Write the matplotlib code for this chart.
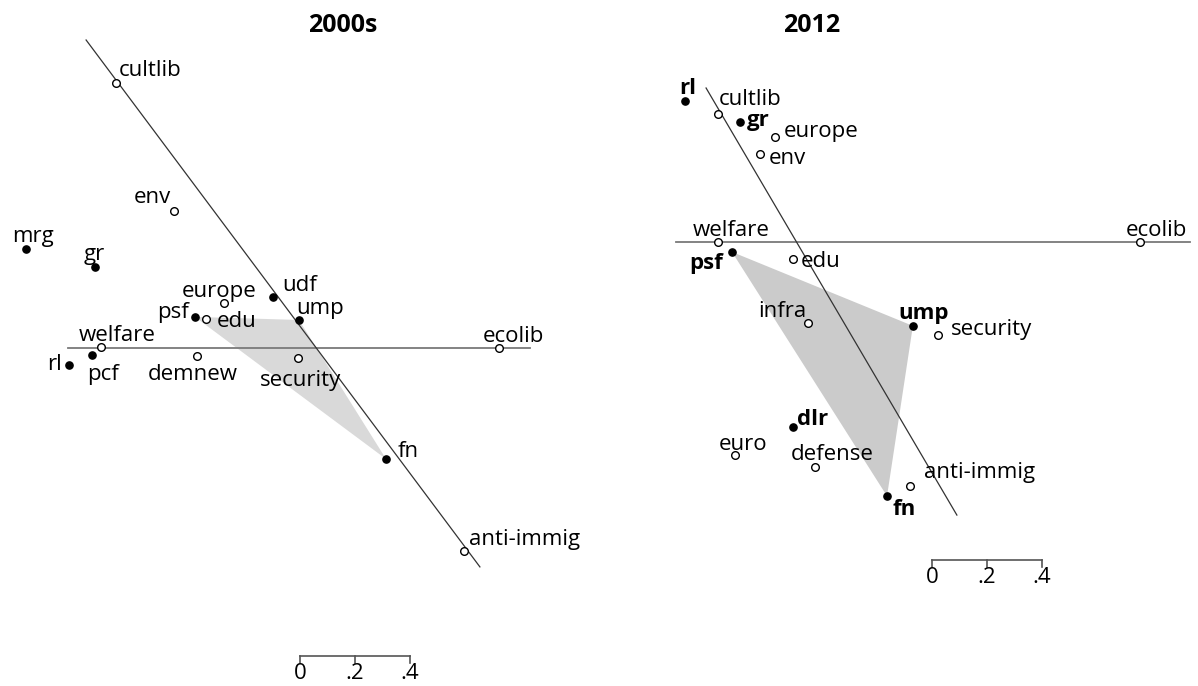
import numpy as np
import matplotlib
matplotlib.use('Agg')
import matplotlib.pyplot as plt

plt.rcParams['font.family'] = ['Open Sans', 'DejaVu Sans']

# ---- 2000s panel (scale units: bar = 0 .. .4) ----
left_party_names = ["mrg", "gr", "udf", "psf", "ump", "pcf", "rl", "fn"]
left_party_x = [-1.055, -0.804, -0.156, -0.440, -0.062, -0.815, -0.898, 0.255]
left_party_y = [0.360, 0.295, 0.185, 0.113, 0.102, -0.025, -0.062, -0.404]

left_issue_names = ["cultlib", "env", "europe", "edu", "welfare", "demnew",
                    "security", "ecolib", "anti-immig"]
left_issue_x = [-0.727, -0.516, -0.335, -0.400, -0.782, -0.433, -0.065, 0.665, 0.538]
left_issue_y = [0.964, 0.498, 0.164, 0.105, 0.004, -0.029, -0.036, 0.0, -0.738]

left_diag_x = [-0.836, 0.596]
left_diag_y = [1.120, -0.796]
left_horiz_x = [-0.902, 0.778]
left_hull = ["psf", "ump", "fn"]

# ---- 2012 panel ----
right_party_names = ["rl", "gr", "psf", "ump", "dlr", "fn"]
right_party_x = [-0.404, -0.204, -0.233, 0.425, -0.011, 0.331]
right_party_y = [0.513, 0.436, -0.036, -0.305, -0.673, -0.924]

right_issue_names = ["cultlib", "europe", "env", "welfare", "ecolib", "edu",
                     "infra", "security", "euro", "defense", "anti-immig"]
right_issue_x = [-0.284, -0.076, -0.131, -0.284, 1.251, -0.011,
                 0.044, 0.516, -0.222, 0.069, 0.415]
right_issue_y = [0.465, 0.382, 0.320, 0.0, 0.0, -0.062,
                 -0.295, -0.338, -0.775, -0.818, -0.887]

right_diag_x = [-0.327, 0.585]
right_diag_y = [0.560, -0.993]
right_horiz_x = [-0.436, 1.433]
right_hull = ["psf", "ump", "fn"]

scale_ticks = [0, 0.2, 0.4]
scale_labels = ["0", ".2", ".4"]

# label placement: (dx px, dy px, ha, va)
left_label_pos = {
    "mrg": (7, 2, "center", "bottom"), "gr": (-1, 2, "center", "bottom"),
    "udf": (9, 1, "left", "bottom"), "psf": (-6, 4, "right", "center"),
    "ump": (-3, 1, "left", "bottom"), "pcf": (11, -9, "center", "top"),
    "rl": (-7, 1, "right", "center"), "fn": (11, -3, "left", "bottom"),
    "cultlib": (3, 2, "left", "bottom"), "env": (-3, 3, "right", "bottom"),
    "europe": (-5, 1, "center", "bottom"), "edu": (11, -2, "left", "center"),
    "welfare": (16, 1, "center", "bottom"), "demnew": (-4, -8, "center", "top"),
    "security": (2, -12, "center", "top"), "ecolib": (15, 1, "center", "bottom"),
    "anti-immig": (5, 1, "left", "bottom"),
}
right_label_pos = {
    "rl": (3, 2, "center", "bottom"), "gr": (7, 2, "left", "center"),
    "psf": (-9, -12, "right", "center"), "ump": (11, 2, "center", "bottom"),
    "dlr": (4, -3, "left", "bottom"), "fn": (5, -3, "left", "top"),
    "cultlib": (1, 4, "left", "bottom"), "europe": (9, 5, "left", "center"),
    "env": (9, -4, "left", "center"), "welfare": (13, 1, "center", "bottom"),
    "ecolib": (16, 1, "center", "bottom"), "edu": (8, -2, "left", "center"),
    "infra": (-2, 1, "right", "bottom"), "security": (13, 5, "left", "center"),
    "euro": (8, 0, "center", "bottom"), "defense": (17, 2, "center", "bottom"),
    "anti-immig": (14, 3, "left", "bottom"),
}

W, H = 1198, 686
PX_PER_UNIT = 275.0
LABEL_SIZE = 16


def make_axes(fig, x0_px, x1_px, origin_px):
    ox, oy = origin_px
    ax = fig.add_axes([x0_px / W, 0, (x1_px - x0_px) / W, 1])
    ax.set_xlim((x0_px - ox) / PX_PER_UNIT, (x1_px - ox) / PX_PER_UNIT)
    ax.set_ylim((oy - H) / PX_PER_UNIT, oy / PX_PER_UNIT)
    ax.axis('off')
    return ax


def draw_panel(ax, party_names, px, py, issue_names, ix, iy, diag_x, diag_y,
               horiz_x, hull, label_pos, hull_color, bold_parties, bar_x0, bar_y):
    pos = dict(zip(party_names, zip(px, py)))
    hx = [pos[n][0] for n in hull]
    hy = [pos[n][1] for n in hull]
    ax.fill(hx, hy, color=hull_color, lw=0, zorder=1)
    ax.plot(horiz_x, [0, 0], color='#7a7a7a', lw=1.3, zorder=2)
    ax.plot(diag_x, diag_y, color='#333333', lw=0.9, zorder=2)
    ax.plot(px, py, 'o', color='black', ms=5.2, zorder=4)
    ax.plot(ix, iy, 'o', mfc='white', mec='black', mew=1.0, ms=5.5, zorder=4)

    for names, xs, ys, bold in [(party_names, px, py, bold_parties),
                                (issue_names, ix, iy, False)]:
        for n, x, y in zip(names, xs, ys):
            dx, dy, ha, va = label_pos[n]
            ax.annotate(n, (x, y), xytext=(dx, dy), textcoords='offset pixels',
                        ha=ha, va=va, fontsize=LABEL_SIZE,
                        fontweight='bold' if bold else 'normal', zorder=5)

    # scale bar
    tick_h = 7 / PX_PER_UNIT
    bx = [bar_x0 + t for t in scale_ticks]
    ax.plot([bx[0], bx[-1]], [bar_y, bar_y], color='#555555', lw=1.2)
    for x, lab in zip(bx, scale_labels):
        ax.plot([x, x], [bar_y, bar_y - tick_h], color='#555555', lw=1.2)
        ax.text(x, bar_y - tick_h, lab, ha='center', va='top',
                fontsize=LABEL_SIZE)


fig = plt.figure(figsize=(W / 100, H / 100), dpi=100)

ax1 = make_axes(fig, 0, 599, (316, 348))
draw_panel(ax1, left_party_names, left_party_x, left_party_y,
           left_issue_names, left_issue_x, left_issue_y,
           left_diag_x, left_diag_y, left_horiz_x, left_hull, left_label_pos,
           '#d9d9d9', False, -0.058, -1.120)

ax2 = make_axes(fig, 599, W, (796, 242))
draw_panel(ax2, right_party_names, right_party_x, right_party_y,
           right_issue_names, right_issue_x, right_issue_y,
           right_diag_x, right_diag_y, right_horiz_x, right_hull, right_label_pos,
           '#cbcbcb', True, 0.495, -1.155)

fig.text(343 / W, 1 - 25 / H, "2000s", ha='center', va='center',
         fontsize=18, fontweight='bold')
fig.text(812 / W, 1 - 25 / H, "2012", ha='center', va='center',
         fontsize=18, fontweight='bold')

plt.savefig("out.png", dpi=100)
